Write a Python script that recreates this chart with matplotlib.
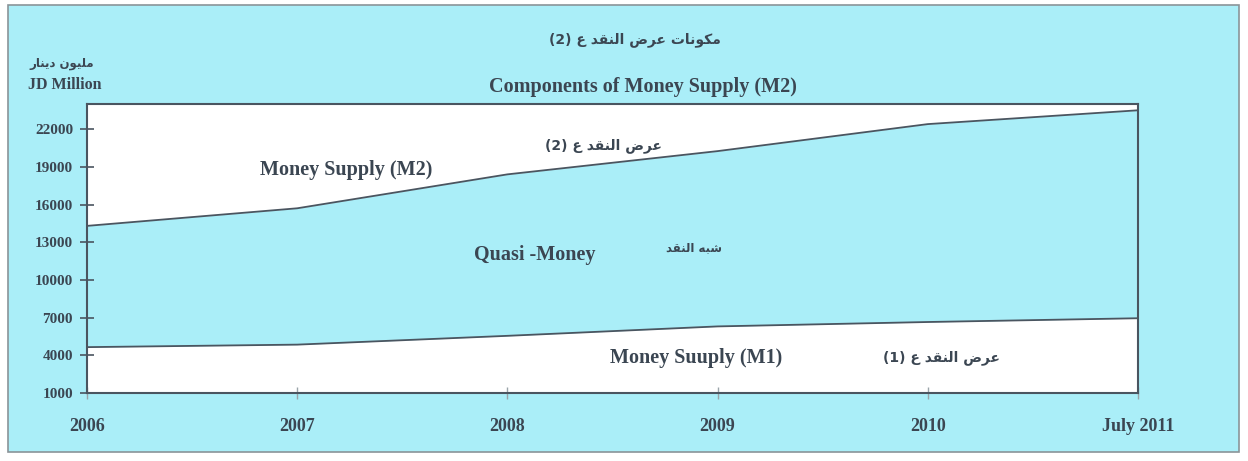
import matplotlib
matplotlib.use("Agg")
import matplotlib.pyplot as plt
from matplotlib.patches import Rectangle

# data (JD million)
periods = ["2006", "2007", "2008", "2009", "2010", "July 2011"]
m2 = [14300, 15700, 18400, 20250, 22400, 23500]
m1 = [4650, 4850, 5550, 6300, 6650, 6950]
yticks = [1000, 4000, 7000, 10000, 13000, 16000, 19000, 22000]

CYAN = "#aaeef8"
LINE = "#4a5560"
TXT = "#3b4652"

# arabic presentation forms: iso, fin, ini, med
FORMS = {
    'ا': (0xFE8D, 0xFE8E),
    'ب': (0xFE8F, 0xFE90, 0xFE91, 0xFE92),
    'ت': (0xFE95, 0xFE96, 0xFE97, 0xFE98),
    'د': (0xFEA9, 0xFEAA),
    'ر': (0xFEAD, 0xFEAE),
    'ش': (0xFEB5, 0xFEB6, 0xFEB7, 0xFEB8),
    'ض': (0xFEBD, 0xFEBE, 0xFEBF, 0xFEC0),
    'ع': (0xFEC9, 0xFECA, 0xFECB, 0xFECC),
    'ق': (0xFED5, 0xFED6, 0xFED7, 0xFED8),
    'ك': (0xFED9, 0xFEDA, 0xFEDB, 0xFEDC),
    'ل': (0xFEDD, 0xFEDE, 0xFEDF, 0xFEE0),
    'م': (0xFEE1, 0xFEE2, 0xFEE3, 0xFEE4),
    'ن': (0xFEE5, 0xFEE6, 0xFEE7, 0xFEE8),
    'ه': (0xFEE9, 0xFEEA, 0xFEEB, 0xFEEC),
    'و': (0xFEED, 0xFEEE),
    'ي': (0xFEF1, 0xFEF2, 0xFEF3, 0xFEF4),
}


def shape_word(w):
    out = []
    for i, c in enumerate(w):
        if c not in FORMS:
            out.append(c)
            continue
        f = FORMS[c]
        prev = i > 0 and w[i - 1] in FORMS and len(FORMS[w[i - 1]]) == 4
        nxt = i < len(w) - 1 and w[i + 1] in FORMS and len(f) == 4
        if prev and nxt:
            out.append(chr(f[3]))
        elif prev:
            out.append(chr(f[1]))
        elif nxt:
            out.append(chr(f[2]))
        else:
            out.append(chr(f[0]))
    return "".join(out[::-1])


def ar(s):
    toks = s.split(" ")
    return " ".join(shape_word(t) if t[0] in FORMS else t for t in toks[::-1])


plt.rcParams['font.family'] = ['Liberation Serif', 'DejaVu Sans']
W, H = 1248, 461
fig = plt.figure(figsize=(W / 100, H / 100), dpi=100, facecolor="white")
fig.patches.append(Rectangle((8 / W, 1 - 452 / H), 1231 / W, 447 / H,
                             transform=fig.transFigure, facecolor=CYAN,
                             edgecolor="#8a9498", lw=1.2, zorder=-5))

ax = fig.add_axes([87 / W, 1 - 393 / H, (1138 - 87) / W, (393 - 104) / H])
ax.set_zorder(2)
ax.set_facecolor("white")
x = list(range(len(periods)))
ax.fill_between(x, m1, m2, color=CYAN, lw=0)
ax.plot(x, m2, color=LINE, lw=1.3)
ax.plot(x, m1, color=LINE, lw=1.3)
ax.set_xlim(0, len(periods) - 1)
ax.set_ylim(1000, 24000)
ax.set_yticks(yticks)
ax.set_yticklabels([str(v) for v in yticks])
ax.set_xticks(x)
ax.set_xticklabels(periods)
for s in ax.spines.values():
    s.set_color(LINE)
    s.set_linewidth(1.5)
ax.tick_params(axis="y", direction="inout", length=10, width=1.2, color=LINE,
               labelsize=11, labelcolor=TXT, pad=5)
ax.tick_params(axis="x", direction="inout", length=8, width=1, color="#9aa4aa",
               labelsize=13, labelcolor=TXT, pad=14)
for lab in ax.get_xticklabels() + ax.get_yticklabels():
    lab.set_fontweight("bold")

# labels inside the plot
ax.text(1.232, 18750, "Money Supply (M2)", ha="center", va="center",
        fontsize=14.5, fontweight="bold", color=TXT)
ax.text(2.455, 20700, ar("عرض النقد ع (2)"), ha="center", va="center",
        fontsize=10, fontweight="bold", color=TXT, family="DejaVu Sans")
ax.text(2.13, 11950, "Quasi -Money", ha="center", va="center",
        fontsize=14.5, fontweight="bold", color=TXT)
ax.text(2.888, 12550, ar("شبه النقد"), ha="center", va="center",
        fontsize=8.5, fontweight="bold", color=TXT, family="DejaVu Sans")
ax.text(2.9, 3800, "Money Suuply (M1)", ha="center", va="center",
        fontsize=14.5, fontweight="bold", color=TXT)
ax.text(4.065, 3800, ar("عرض النقد ع (1)"), ha="center", va="center",
        fontsize=10, fontweight="bold", color=TXT, family="DejaVu Sans")

# titles
fig.text(635 / W, 1 - 40 / H, ar("مكونات عرض النقد ع (2)"), ha="center",
         va="center", fontsize=10, fontweight="bold", color=TXT,
         family="DejaVu Sans")
fig.text(643 / W, 1 - 87 / H, "Components of Money Supply (M2)", ha="center",
         va="center", fontsize=14.5, fontweight="bold", color=TXT)
fig.text(29 / W, 1 - 63 / H, ar("مليون دينار"), ha="left", va="center",
         fontsize=8.5, fontweight="bold", color=TXT, family="DejaVu Sans")
fig.text(28 / W, 1 - 85 / H, "JD Million", ha="left", va="center",
         fontsize=11.5, fontweight="bold", color=TXT)

fig.savefig("out.png", dpi=100, facecolor="white")
